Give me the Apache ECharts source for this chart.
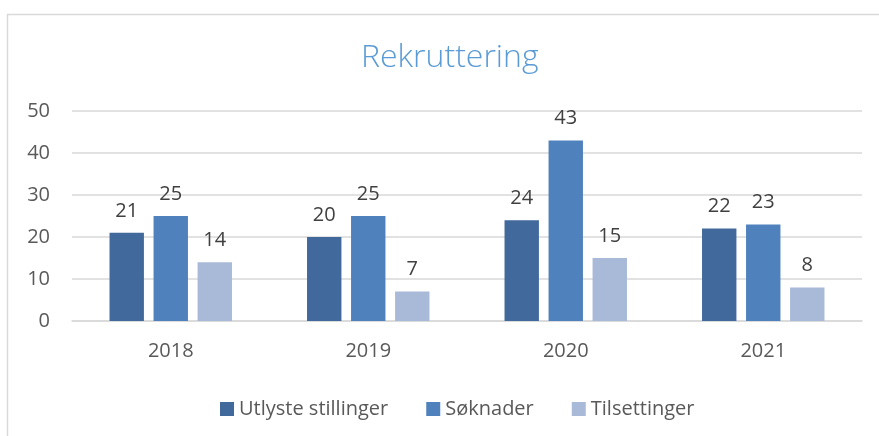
<!DOCTYPE html>
<html><head><meta charset="utf-8">
<script src="https://cdn.jsdelivr.net/npm/echarts@6/dist/echarts.min.js"></script>
<style>html,body{margin:0;padding:0;background:#fff}#c{width:879px;height:436px}</style>
</head><body><div id="c"></div>
<script>
const categories = ['2018','2019','2020','2021'];
const utlyste = [21, 20, 24, 22];
const soknader = [25, 25, 43, 23];
const tilsettinger = [14, 7, 15, 8];
const seriesNames = ['Utlyste stillinger','Søknader','Tilsettinger'];
const yTicks = [0, 10, 20, 30, 40, 50];

const chart = echarts.init(document.getElementById('c'));
const font = '"Open Sans", "Noto Sans", sans-serif';
const lbl = {show:true, position:'top', distance:12, color:'#404040', fontSize:20, fontFamily:font};
chart.setOption({
  animation:false,
  graphic:[{type:'rect', left:5, top:12, shape:{width:900, height:440}, style:{fill:'none', stroke:'#d9d9d9', lineWidth:1.5}, silent:true}],
  title:{text:'Rekruttering', left:356, top:37, textStyle:{color:'#5b9bd5', fontSize:32, fontWeight:300, fontFamily:font}},
  legend:{data:seriesNames, bottom:12, left:215, itemWidth:14, itemHeight:14, itemGap:38, icon:'rect',
    textStyle:{color:'#595959', fontSize:20, fontFamily:font}},
  grid:{left:72, right:17, top:111, bottom:115, containLabel:false},
  xAxis:{type:'category', data:categories, axisTick:{show:false},
    axisLine:{lineStyle:{color:'#d9d9d9', width:1.5}},
    axisLabel:{color:'#595959', fontSize:20, margin:20, fontFamily:font}},
  yAxis:{type:'value', min:yTicks[0], max:yTicks[yTicks.length-1], interval:10,
    axisLine:{show:false}, axisTick:{show:false},
    splitLine:{lineStyle:{color:'#d9d9d9', width:1.5}},
    axisLabel:{color:'#595959', fontSize:20, margin:22, fontFamily:font}},
  series:[
    {name:seriesNames[0], type:'bar', data:utlyste, itemStyle:{color:'#41699b'}, label:lbl, barGap:'28%', barCategoryGap:'38%'},
    {name:seriesNames[1], type:'bar', data:soknader, itemStyle:{color:'#4f81bd'}, label:lbl},
    {name:seriesNames[2], type:'bar', data:tilsettinger, itemStyle:{color:'#a9b9d8'}, label:lbl}
  ]
});
</script></body></html>
